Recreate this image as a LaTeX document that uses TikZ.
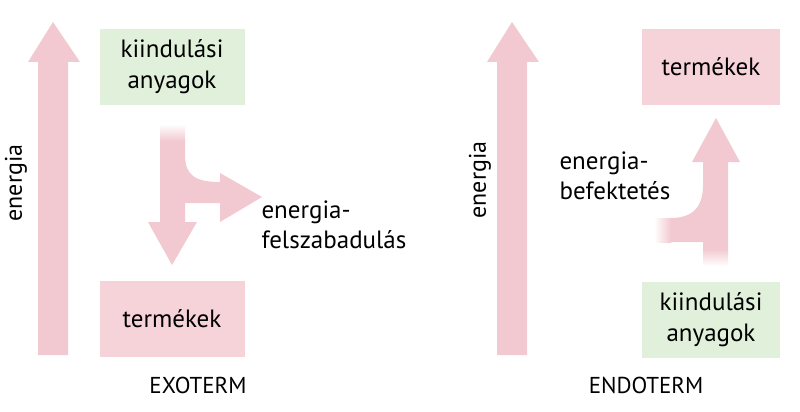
\documentclass[tikz,border=0pt]{standalone}
\usepackage{fontspec}
\setmainfont{PT Sans}
\usetikzlibrary{positioning}
\definecolor{arrowpink}{HTML}{F2C9D0}
\definecolor{boxpink}{HTML}{F5D3D9}
\definecolor{boxgreen}{HTML}{E1F0DA}
\tikzset{
  box/.style={minimum width=145pt,minimum height=76pt,align=center,font=\fontsize{25}{31}\selectfont},
  lbl/.style={align=left,font=\fontsize{25}{30}\selectfont,anchor=west},
  title/.style={font=\fontsize{23}{26}\selectfont}
}
\begin{document}
\begin{tikzpicture}[x=1pt,y=-1pt]
  \useasboundingbox (0,0) rectangle (800,412);
  % tall energy arrows
  \fill[arrowpink] (38,355) -- (38,62) -- (28,62) -- (53,22) -- (80,62) -- (68,62) -- (68,355) -- cycle;
  \fill[arrowpink] (497,355) -- (497,62) -- (487,62) -- (512,22) -- (539,62) -- (527,62) -- (527,355) -- cycle;
  \node[rotate=90,title,font=\fontsize{24}{26}\selectfont] (eleft) at (16,183) {energia};
  \node[rotate=90,title,font=\fontsize{24}{26}\selectfont] (eright) at (480,180) {energia};

  % exoterm
  \node[box,fill=boxgreen] (startL) at (172,67) {kiindulási\\anyagok};
  \node[box,fill=boxpink] (endL) at (172,319) {termékek};
  \fill[arrowpink] (160,140) -- (160,222) -- (148,222) -- (172,265) -- (197,222) -- (185,222)
    -- (185,203) -- (220,203) -- (220,222) -- (262,197) -- (220,173) -- (220,182)
    .. controls (195,182) and (185,175) .. (185,155) -- (185,140) -- cycle;
  \shade[top color=white,bottom color=arrowpink] (160,124) rectangle (185,141);
  \node[lbl] (outL) at (258,225) {energia-\\felszabadulás};
  \node[title] (exo) at (198,385) {EXOTERM};

  % endoterm
  \node[box,fill=boxpink,minimum width=138pt] (endR) at (711,67) {termékek};
  \node[box,fill=boxgreen,minimum width=138pt] (startR) at (711,320) {kiindulási\\anyagok};
  \fill[arrowpink] (728,250) -- (728,162) -- (740,162) -- (716,118) -- (692,162) -- (703,162)
    -- (703,185) .. controls (703,210) and (690,218) .. (670,218) -- (670,242) -- (703,242)
    -- (703,250) -- cycle;
  \shade[top color=arrowpink,bottom color=white] (703,249) rectangle (728,266);
  \shade[left color=white,right color=arrowpink] (654,218) rectangle (671,242);
  \node[lbl] (inR) at (556,176) {energia-\\befektetés};
  \node[title] (endo) at (646,385) {ENDOTERM};
\end{tikzpicture}
\end{document}
